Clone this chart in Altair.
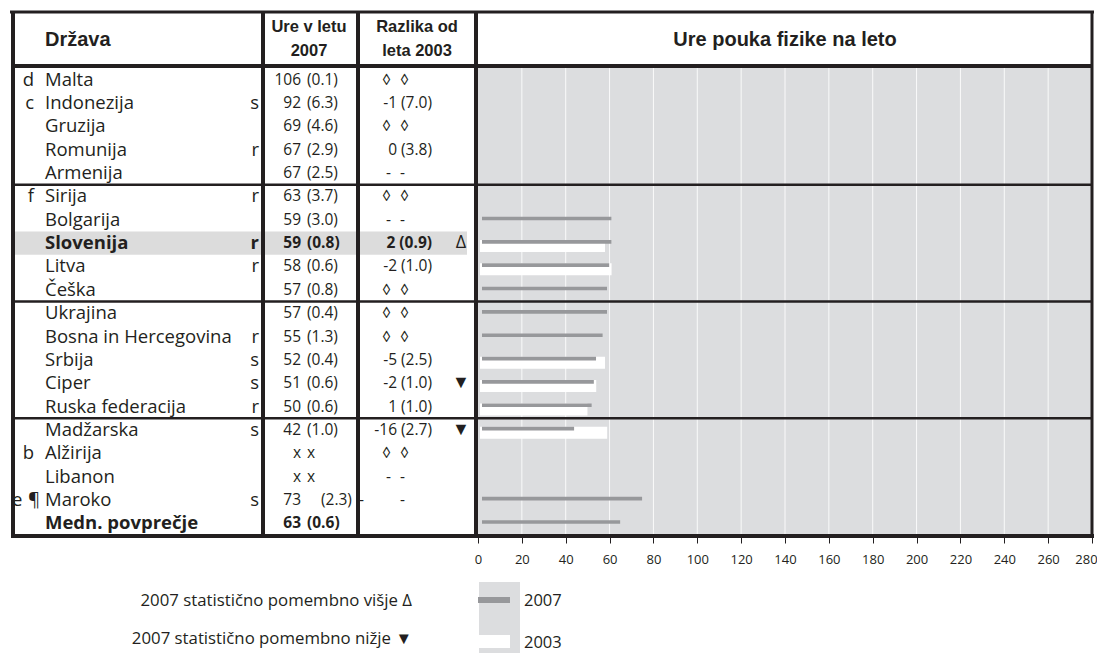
import altair as alt
import pandas as pd

# ---------------- data ----------------
countries = ["Malta", "Indonezija", "Gruzija", "Romunija", "Armenija",
             "Sirija", "Bolgarija", "Slovenija", "Litva", "Češka",
             "Ukrajina", "Bosna in Hercegovina", "Srbija", "Ciper", "Ruska federacija",
             "Madžarska", "Alžirija", "Libanon", "Maroko", "Medn. povprečje"]
groups = [1, 1, 1, 1, 1, 2, 2, 2, 2, 2, 3, 3, 3, 3, 3, 4, 4, 4, 4, 4]
prefixes = ["d", "c", "", "", "", "f", "", "", "", "", "", "", "", "", "", "", "b", "", "", ""]
prefixes_outer = ["", "", "", "", "", "", "", "", "", "", "", "", "", "", "", "", "", "", "e", ""]
pilcrows = ["", "", "", "", "", "", "", "", "", "", "", "", "", "", "", "", "", "", "¶", ""]
flags = ["", "s", "", "r", "", "r", "", "r", "r", "", "", "r", "s", "s", "r", "s", "", "", "s", ""]
hours_2007 = ["106", "92", "69", "67", "67", "63", "59", "59", "58", "57",
              "57", "55", "52", "51", "50", "42", "x", "x", "73", "63"]
se_2007 = ["(0.1)", "(6.3)", "(4.6)", "(2.9)", "(2.5)", "(3.7)", "(3.0)", "(0.8)", "(0.6)", "(0.8)",
           "(0.4)", "(1.3)", "(0.4)", "(0.6)", "(0.6)", "(1.0)", "x", "x", "", "(0.6)"]
se_2007_wide = ["", "", "", "", "", "", "", "", "", "", "", "", "", "", "", "", "", "", "(2.3)", ""]
diff_2003 = ["", "-1 (7.0)", "", "0 (3.8)", "", "", "", "2 (0.9)", "-2 (1.0)", "",
             "", "", "-5 (2.5)", "-2 (1.0)", "1 (1.0)", "-16 (2.7)", "", "", "", ""]
diff_mark_a = ["◊", "", "◊", "", "-", "◊", "-", "", "", "◊",
               "◊", "◊", "", "", "", "", "◊", "-", "", ""]
diff_mark_a_left = ["", "", "", "", "", "", "", "", "", "", "", "", "", "", "", "", "", "", "-", ""]
diff_mark_b = ["◊", "", "◊", "", "-", "◊", "-", "", "", "◊",
               "◊", "◊", "", "", "", "", "◊", "-", "-", ""]
signif = ["", "", "", "", "", "", "", "Δ", "", "",
          "", "", "", "▼", "", "▼", "", "", "", ""]
bar_2007 = [None, None, None, None, None, None, 59, 59, 58, 57,
            57, 55, 52, 51, 50, 42, None, None, 73, 63]
bar_2003 = [None, None, None, None, None, None, None, 57, 60, None,
            None, None, 57, 53, 49, 58, None, None, None, None]
bold_rows = ["Slovenija", "Medn. povprečje"]
highlight_rows = ["Slovenija"]
x_ticks = [0, 20, 40, 60, 80, 100, 120, 140, 160, 180, 200, 220, 240, 260, 280]

header_country = "Država"
header_hours = ["Ure v letu", "2007"]
header_diff = ["Razlika od", "leta 2003"]
header_chart = "Ure pouka fizike na leto"
legend_signif = ["2007 statistično pomembno višje Δ", "2007 statistično pomembno nižje ▼"]
legend_series = ["2007", "2003"]

# ---------------- styles / layout ----------------
INK = "#231f20"
BG = "#dcdddf"
BAR = "#97989b"
HL = "#dcdcdc"
NAME_FONT = "Open Sans"
NUM_FONT = "Open Sans"
HEAD_FONT = "Liberation Sans"
NAME_SIZE = 18.5
NUM_SIZE = 15.5

W, H = 1089, 529
ROW_TOP, ROW_BOTTOM = 60, 527
X_LEFT, X_RIGHT = 470, 1084

df = pd.DataFrame({
    "country": countries, "group": groups, "prefix": prefixes, "prefix_o": prefixes_outer,
    "pil": pilcrows, "flag": flags,
    "h07": hours_2007, "se07": se_2007, "se07w": se_2007_wide, "diff": diff_2003,
    "ma": diff_mark_a, "mal": diff_mark_a_left, "mb": diff_mark_b, "sig": signif,
    "v2007": bar_2007, "v2003": bar_2003,
})
df["row"] = range(len(df))
df["bold"] = df["country"].isin(bold_rows)
df["hl"] = df["country"].isin(highlight_rows)

n_rows = len(countries)
yscale = alt.Scale(domain=[0, n_rows], range=[ROW_TOP, ROW_BOTTOM], nice=False, zero=False)
xscale = alt.Scale(domain=[x_ticks[0], x_ticks[-1]], range=[X_LEFT, X_RIGHT], nice=False, zero=False)
xax = alt.Axis(values=x_ticks, title=None, grid=False, domain=False, labelFont=NAME_FONT,
               labelFontSize=13, labelColor=INK, tickColor=INK, tickSize=6, tickWidth=1,
               labelPadding=10, labelFlush=False,
               labelOffset={"condition": {"test": f"datum.value == {x_ticks[-1]}", "value": -6},
                            "value": 0})
Y = lambda f: alt.Y(f, scale=yscale, axis=None)

base = alt.Chart(df).transform_calculate(yc="datum.row + 0.5", rend="datum.row + 1", zero="0")
one = pd.DataFrame({"k": [0]})


def txt(field, x, align, font, size, bold=None):
    c = base
    if bold is not None:
        c = c.transform_filter("datum.bold" if bold else "!datum.bold")
    return c.mark_text(align=align, baseline="middle", font=font, fontSize=size,
                       fontWeight="bold" if bold else "normal", color=INK).encode(
        x=alt.value(x), y=Y("yc:Q"), text=f"{field}:N")


def fixed_text(s, x, y, align, font, size, bold=False):
    return alt.Chart(one).mark_text(text=s, align=align, baseline="middle", font=font,
                                    fontSize=size, fontWeight="bold" if bold else "normal",
                                    color=INK).encode(x=alt.value(x), y=alt.value(y))


def hline(x1, x2, y, w):
    return alt.Chart(one).mark_rule(color=INK, strokeWidth=w).encode(
        x=alt.value(x1), x2=alt.value(x2), y=alt.value(y))


def vline(x, y1, y2, w):
    return alt.Chart(one).mark_rule(color=INK, strokeWidth=w).encode(
        x=alt.value(x), y=alt.value(y1), y2=alt.value(y2))


layers = []

# chart-area background
bg_df = pd.DataFrame({"lo": [x_ticks[0]], "hi": [x_ticks[-1]], "top": [0], "bot": [n_rows]})
layers.append(alt.Chart(bg_df).mark_rect(color=BG).encode(
    x=alt.X("lo:Q", scale=xscale, axis=xax), x2="hi:Q", y=Y("top:Q"), y2="bot:Q"))

# white gridlines
grid_df = pd.DataFrame({"t": x_ticks[1:-1], "top": 0, "bot": n_rows})
layers.append(alt.Chart(grid_df).mark_rule(color="white", strokeWidth=1, opacity=0.85).encode(
    x=alt.X("t:Q", scale=xscale, axis=xax), y=Y("top:Q"), y2="bot:Q"))

# highlighted row
layers.append(base.transform_filter("datum.hl").mark_rect(color=HL).encode(
    x=alt.value(4), x2=alt.value(459), y=Y("row:Q"), y2="rend:Q"))

# bars
layers.append(base.transform_filter("isValid(datum.v2003)").mark_rule(
    color="white", strokeWidth=12, yOffset=2.8, xOffset=2, x2Offset=2).encode(
    x=alt.X("zero:Q", scale=xscale, axis=xax), x2="v2003:Q", y=Y("yc:Q")))
layers.append(base.transform_filter("isValid(datum.v2007)").mark_rule(
    color=BAR, strokeWidth=3.6, yOffset=-1.3, xOffset=4, x2Offset=4).encode(
    x=alt.X("zero:Q", scale=xscale, axis=xax), x2="v2007:Q", y=Y("yc:Q")))

# group separators
bounds = [i for i in range(1, n_rows) if groups[i] != groups[i - 1]]
sep_df = pd.DataFrame({"b": bounds})
layers.append(alt.Chart(sep_df).mark_rule(color=INK, strokeWidth=2.5).encode(
    x=alt.value(4), x2=alt.value(1085), y=Y("b:Q")))

# frame
layers += [
    hline(2, 1086, 4, 3),
    hline(4, 1085, 58, 4),
    hline(3, 1086, 528, 4),
    vline(5, 3, 530, 4),
    vline(255, 3, 530, 4),
    vline(350, 3, 530, 4),
    vline(468, 3, 530, 4),
    vline(1084, 3, 530, 3),
]

# table text
for bold in (False, True):
    layers += [
        txt("prefix", 26, "right", NAME_FONT, NAME_SIZE, bold),
        txt("country", 37, "left", NAME_FONT, NAME_SIZE, bold),
        txt("flag", 251, "right", NAME_FONT, NAME_SIZE, bold),
        txt("h07", 293, "right", NUM_FONT, NUM_SIZE, bold),
        txt("se07", 299, "left", NUM_FONT, NUM_SIZE, bold),
        txt("diff", 424, "right", NUM_FONT, NUM_SIZE, bold),
        txt("ma", 383, "right", NUM_FONT, NUM_SIZE, bold),
        txt("mb", 392, "left", NUM_FONT, NUM_SIZE, bold),
    ]
layers += [
    txt("prefix_o", 4, "left", NAME_FONT, NAME_SIZE),
    txt("pil", 32, "right", NAME_FONT, NAME_SIZE),
    txt("se07w", 313, "left", NUM_FONT, NUM_SIZE),
    txt("mal", 351, "left", NUM_FONT, NUM_SIZE),
    txt("sig", 453, "center", NAME_FONT, 18),
]

# header
layers += [
    fixed_text(header_country, 37, 32, "left", HEAD_FONT, 20, True),
    fixed_text(header_hours[0], 301, 19, "center", HEAD_FONT, 16.5, True),
    fixed_text(header_hours[1], 301, 43, "center", HEAD_FONT, 16.5, True),
    fixed_text(header_diff[0], 409, 19, "center", HEAD_FONT, 16.5, True),
    fixed_text(header_diff[1], 409, 43, "center", HEAD_FONT, 16.5, True),
    fixed_text(header_chart, 777, 32, "center", HEAD_FONT, 20, True),
]

# legend
layers += [
    alt.Chart(one).mark_rect(color=BG).encode(
        x=alt.value(471), x2=alt.value(512), y=alt.value(574), y2=alt.value(650)),
    alt.Chart(one).mark_rect(color=BAR).encode(
        x=alt.value(470), x2=alt.value(502), y=alt.value(589), y2=alt.value(595)),
    alt.Chart(one).mark_rect(color="white").encode(
        x=alt.value(471), x2=alt.value(502), y=alt.value(627), y2=alt.value(640)),
    fixed_text(legend_series[0], 516, 593, "left", NAME_FONT, 16.5),
    fixed_text(legend_series[1], 516, 635, "left", NAME_FONT, 16.5),
    fixed_text(legend_signif[0], 404, 593, "right", NAME_FONT, 16.8),
    fixed_text(legend_signif[1], 404, 631, "right", NAME_FONT, 16.8),
]

chart = alt.layer(*layers).properties(
    width=W, height=H,
    autosize=alt.AutoSizeParams(type="none"),
    padding={"left": 0, "right": 0, "top": 0, "bottom": 116},
    background="white",
).configure_view(stroke=None)

chart.save("out.html", embed_options={"renderer": "svg", "actions": False})
